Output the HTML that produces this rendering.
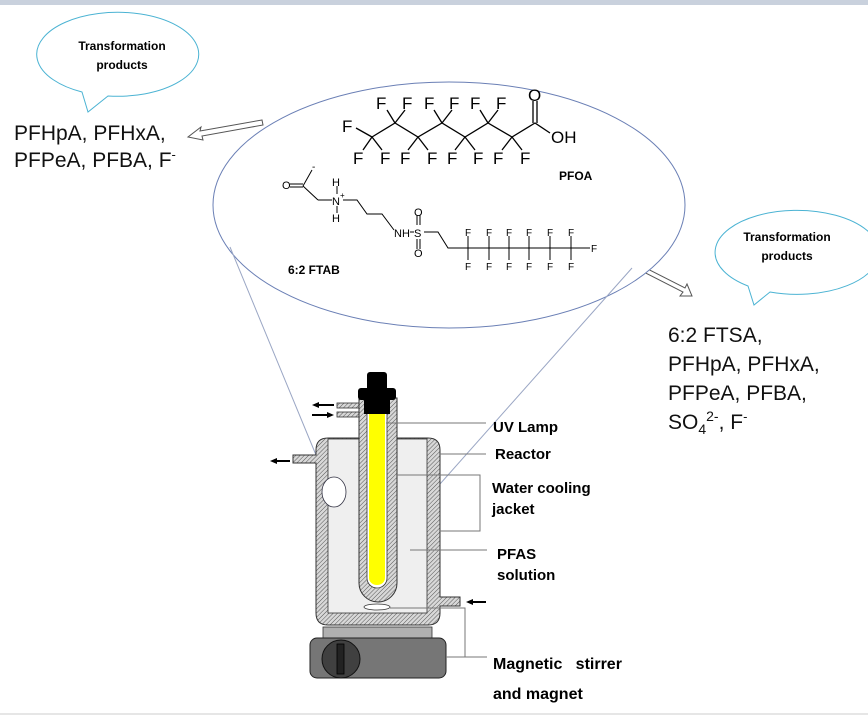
<!DOCTYPE html>
<html><head><meta charset="utf-8"><style>
body{margin:0;background:#fff}
svg{display:block}
.t{font-family:"Liberation Sans",sans-serif}
.b{font-weight:bold}
</style></head><body>
<svg width="868" height="718" viewBox="0 0 868 718" xmlns="http://www.w3.org/2000/svg">
<defs>
<pattern id="h" width="3" height="3" patternUnits="userSpaceOnUse" patternTransform="rotate(45)">
<rect width="3" height="3" fill="#d8d8d8"/><line x1="0" y1="0" x2="0" y2="3" stroke="#555" stroke-width="1"/>
</pattern>
</defs>
<rect x="0" y="0" width="868" height="5" fill="#c9d1dd"/>
<line x1="0" y1="714" x2="868" y2="714" stroke="#ccc"/>

<!-- bubbles -->
<path d="M82,92 A81,42 0 1 1 108,96 L88,112 Z" fill="#fff" stroke="#4bb3d3" stroke-width="1"/>
<text x="122" y="50" class="t b" font-size="12" text-anchor="middle">Transformation</text>
<text x="122" y="69" class="t b" font-size="12" text-anchor="middle">products</text>
<path d="M748,286 A82,42 0 1 1 770,292 L754,305 Z" fill="#fff" stroke="#4bb3d3" stroke-width="1"/>
<text x="787" y="241" class="t b" font-size="12" text-anchor="middle">Transformation</text>
<text x="787" y="260" class="t b" font-size="12" text-anchor="middle">products</text>

<!-- product text -->
<g class="t" font-size="21" fill="#111">
<text x="14" y="140">PFHpA, PFHxA,</text>
<text x="14" y="167">PFPeA, PFBA, F<tspan dy="-8" font-size="13">-</tspan></text>
<text x="668" y="342">6:2 FTSA,</text>
<text x="668" y="371">PFHpA, PFHxA,</text>
<text x="668" y="400">PFPeA, PFBA,</text>
<text x="668" y="429">SO<tspan dy="5" font-size="14">4</tspan><tspan dy="-13" font-size="14">2-</tspan><tspan dy="8">, F</tspan><tspan dy="-8" font-size="13">-</tspan></text>
</g>

<!-- hollow arrows -->
<path d="M262,120 L200,131 L201,127 L188,137 L203,140 L202,136 L263,125 Z" fill="#fff" stroke="#555" stroke-width="1"/>
<path d="M634,262 L685,288 L687,284 L692,296 L680,296 L683,292 L632,266 Z" fill="#fff" stroke="#555" stroke-width="1"/>

<!-- big ellipse -->
<ellipse cx="449" cy="205" rx="236" ry="123" fill="#fff" stroke="#6a7fb5" stroke-width="1"/>
<line x1="230" y1="247" x2="316" y2="455" stroke="#9aa6c4" stroke-width="1"/>
<line x1="632" y1="268" x2="368" y2="565" stroke="#9aa6c4" stroke-width="1"/>

<!-- PFOA -->
<g stroke="#000" stroke-width="1.3" fill="none">
<polyline points="372,137 395,123 418,137 442,123 465,137 488,123 512,137 535,123 550,133"/>
<line x1="533" y1="123" x2="533" y2="101"/><line x1="537" y1="123" x2="537" y2="101"/>
<line x1="372" y1="137" x2="356" y2="128"/><line x1="372" y1="137" x2="363" y2="150"/><line x1="372" y1="137" x2="382" y2="150"/>
<line x1="395" y1="123" x2="387" y2="110"/><line x1="395" y1="123" x2="405" y2="110"/>
<line x1="418" y1="137" x2="408" y2="150"/><line x1="418" y1="137" x2="428" y2="150"/>
<line x1="442" y1="123" x2="434" y2="110"/><line x1="442" y1="123" x2="452" y2="110"/>
<line x1="465" y1="137" x2="455" y2="150"/><line x1="465" y1="137" x2="475" y2="150"/>
<line x1="488" y1="123" x2="480" y2="110"/><line x1="488" y1="123" x2="498" y2="110"/>
<line x1="512" y1="137" x2="502" y2="150"/><line x1="512" y1="137" x2="522" y2="150"/>
</g>
<g class="t" font-size="17">
<text x="342" y="132">F</text>
<text x="376" y="109">F</text><text x="402" y="109">F</text><text x="424" y="109">F</text><text x="449" y="109">F</text><text x="470" y="109">F</text><text x="496" y="109">F</text>
<text x="353" y="164">F</text><text x="380" y="164">F</text><text x="400" y="164">F</text><text x="427" y="164">F</text><text x="447" y="164">F</text><text x="473" y="164">F</text><text x="493" y="164">F</text><text x="520" y="164">F</text>
<text x="528" y="101">O</text><text x="551" y="143">OH</text>
</g>
<text x="559" y="180" class="t b" font-size="12">PFOA</text>

<!-- FTAB -->
<g stroke="#000" stroke-width="1" fill="none">
<line x1="290" y1="184" x2="303" y2="184"/><line x1="290" y1="187" x2="303" y2="187"/>
<line x1="303" y1="186" x2="312" y2="170"/>
<line x1="303" y1="186" x2="318" y2="200"/><line x1="318" y1="200" x2="332" y2="200"/>
<line x1="337" y1="186" x2="337" y2="194"/><line x1="337" y1="206" x2="337" y2="213"/>
<polyline points="343,200 357,200 367,214 382,214 394,230"/>
<line x1="410" y1="232" x2="414" y2="232"/>
<line x1="417" y1="215" x2="417" y2="225"/><line x1="420" y1="215" x2="420" y2="225"/>
<line x1="417" y1="239" x2="417" y2="249"/><line x1="420" y1="239" x2="420" y2="249"/>
<polyline points="424,232 438,232 448,248 590,248"/>
<line x1="468" y1="236" x2="468" y2="260"/><line x1="489" y1="236" x2="489" y2="260"/><line x1="509" y1="236" x2="509" y2="260"/><line x1="529" y1="236" x2="529" y2="260"/><line x1="550" y1="236" x2="550" y2="260"/><line x1="571" y1="236" x2="571" y2="260"/>
</g>
<g class="t" font-size="11">
<text x="282" y="189">O</text><text x="312" y="170" font-size="10">-</text>
<text x="332" y="186">H</text><text x="332" y="205">N</text><text x="340" y="198" font-size="8">+</text><text x="332" y="222">H</text>
<text x="394" y="237">NH</text><text x="414" y="237">S</text>
<text x="414" y="216">O</text><text x="414" y="257">O</text>
<g font-size="10">
<text x="465" y="236">F</text><text x="486" y="236">F</text><text x="506" y="236">F</text><text x="526" y="236">F</text><text x="547" y="236">F</text><text x="568" y="236">F</text>
<text x="465" y="270">F</text><text x="486" y="270">F</text><text x="506" y="270">F</text><text x="526" y="270">F</text><text x="547" y="270">F</text><text x="568" y="270">F</text>
<text x="591" y="252">F</text>
</g>
</g>
<text x="288" y="274" class="t b" font-size="12">6:2 FTAB</text>

<!-- reactor -->
<path d="M293,455 L316,455 L316,450 Q316,438 328,438 L428,438 Q440,438 440,450 L440,597 L460,597 L460,606 L440,606 L440,613 Q440,625 428,625 L328,625 Q316,625 316,613 L316,463 L293,463 Z" fill="url(#h)" stroke="#333" stroke-width="1"/>
<rect x="328" y="439" width="99" height="174" fill="#efefef" stroke="#333" stroke-width="0.8"/>
<ellipse cx="334" cy="492" rx="12" ry="15" fill="#fff" stroke="#334" stroke-width="0.8"/>
<!-- inner tube -->
<rect x="337" y="403" width="22" height="5" fill="url(#h)" stroke="#333" stroke-width="0.8"/>
<rect x="337" y="412" width="22" height="5" fill="url(#h)" stroke="#333" stroke-width="0.8"/>
<path d="M359,398 L397,398 L397,583 A19,19 0 0 1 359,583 Z" fill="url(#h)" stroke="#333" stroke-width="1"/>
<path d="M367,410 L387,410 L387,578 A10,10 0 0 1 367,578 Z" fill="#fff" stroke="#333" stroke-width="0.8"/>
<path d="M369,412 L385,412 L385,578 A8,7 0 0 1 369,578 Z" fill="#ffff00"/>
<rect x="358" y="388" width="38" height="12" rx="3" fill="#000"/>
<rect x="367" y="372" width="20" height="30" rx="3" fill="#000"/>
<rect x="364" y="398" width="26" height="16" fill="#000"/>
<ellipse cx="377" cy="607" rx="13" ry="3" fill="#fff" stroke="#333" stroke-width="0.8"/>
<!-- arrows -->
<g stroke="#000" stroke-width="2" fill="#000">
<line x1="318" y1="405" x2="334" y2="405"/><path d="M312,405 L319,402 L319,408 Z" stroke-width="0"/>
<line x1="312" y1="415" x2="328" y2="415"/><path d="M334,415 L327,412 L327,418 Z" stroke-width="0"/>
<line x1="276" y1="461" x2="290" y2="461"/><path d="M270,461 L277,458 L277,464 Z" stroke-width="0"/>
<line x1="472" y1="602" x2="486" y2="602"/><path d="M466,602 L473,599 L473,605 Z" stroke-width="0"/>
</g>
<!-- stirrer -->
<rect x="323" y="627" width="109" height="12" fill="#b0b0b0" stroke="#333" stroke-width="0.8"/>
<rect x="310" y="638" width="136" height="40" rx="7" fill="#767676" stroke="#222" stroke-width="1"/>
<circle cx="341" cy="659" r="19" fill="#404040" stroke="#111"/>
<rect x="337" y="644" width="7" height="30" fill="#222" stroke="#000" stroke-width="0.8"/>

<!-- leader lines -->
<g stroke="#777" stroke-width="1" fill="none">
<line x1="386" y1="423" x2="486" y2="423"/>
<line x1="440" y1="454" x2="486" y2="454"/>
<polyline points="397,475 480,475 480,531 440,531"/>
<line x1="410" y1="550" x2="487" y2="550"/>
<polyline points="390,608 465,608 465,657 446,657"/>
<line x1="465" y1="657" x2="487" y2="657"/>
</g>
<g class="t b" font-size="15">
<text x="493" y="432">UV Lamp</text>
<text x="495" y="459">Reactor</text>
<text x="492" y="493">Water cooling</text>
<text x="492" y="514">jacket</text>
<text x="497" y="559">PFAS</text>
<text x="497" y="580">solution</text>
<text x="493" y="669" font-size="16">Magnetic&#160;&#160;&#160;stirrer</text>
<text x="493" y="699" font-size="16">and magnet</text>
</g>
</svg>
</body></html>
